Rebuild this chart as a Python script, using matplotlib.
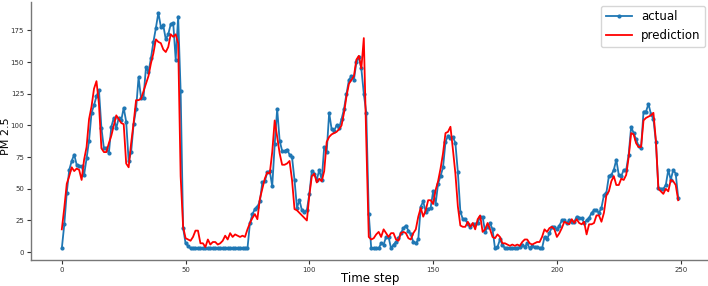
import numpy as np
import matplotlib
matplotlib.use("Agg")
import matplotlib.pyplot as plt

actual = [
    3, 22, 47, 65, 72, 77, 69, 68, 68, 61,
    74, 88, 110, 116, 123, 128, 98, 82, 82, 78,
    99, 106, 98, 106, 104, 114, 103, 72, 79, 101,
    113, 138, 122, 122, 146, 142, 153, 166, 177, 189,
    178, 179, 168, 172, 180, 181, 152, 186, 127, 19,
    7, 5, 3, 3, 3, 3, 3, 3, 3, 3,
    3, 3, 3, 3, 3, 3, 3, 3, 3, 3,
    3, 3, 3, 3, 3, 3, 23, 30, 34, 36,
    40, 55, 56, 63, 64, 52, 85, 113,
    88, 80, 80, 81, 77, 75, 57, 35, 41, 33, 32, 33,
    46, 64, 62, 57, 65, 57, 83, 79, 110, 97, 96, 100,
    98, 105, 113, 125, 136, 139, 136, 150, 154, 145, 125, 110, 30,
    3, 3, 3, 3, 7, 6, 12, 12, 3, 6,
    8, 11, 15, 19, 21, 17, 14, 8, 7, 10,
    36, 40, 32, 34, 35, 48, 38, 54, 60, 67,
    87, 92, 90, 91, 86,
    63, 32, 26, 26, 22, 20, 22, 22, 23, 28,
    28, 16, 20, 23, 18, 3, 4, 10, 6, 3,
    3, 3, 3, 3, 3, 4, 6, 4, 7, 3,
    5, 4, 4, 3, 3, 12, 10, 15, 20, 20,
    18, 21, 25, 25, 23, 25, 24, 24, 28, 27,
    27, 23, 25, 27, 31, 33, 33, 31, 35, 45,
    47, 60, 61, 65, 73, 61, 60, 65, 65, 77,
    99, 94, 89, 84, 82, 111, 111, 117, 109, 105,
    87, 51, 50, 50, 53, 65, 57, 65, 62, 43,
]

prediction = [
    18, 35, 54, 60, 67, 64, 66, 65, 57, 73,
    83, 105, 115, 129, 135, 117, 82, 79, 79, 86,
    92, 100, 108, 105, 102, 101, 70, 67, 86, 102,
    120, 120, 121, 127, 133, 139, 149, 157, 168, 166,
    165, 160, 158, 162, 172, 170, 172, 165, 60, 20,
    11, 10, 9, 12, 17, 17, 7, 7, 4, 10,
    6, 8, 8, 6, 7, 9, 13, 10, 15, 12,
    14, 13, 12, 13, 12, 18, 23, 27, 30, 26,
    42, 50, 58, 63, 62, 79, 104, 91, 78, 69,
    69, 70, 72, 57, 34, 33, 31, 29, 27, 25,
    45, 60, 62, 55, 58, 56, 64,
    87, 91, 93, 94, 95, 97, 100, 110, 123, 133, 136, 139, 152, 155, 145, 169,
    88,
    12, 10, 11, 14, 16, 12, 18, 15, 12, 15, 15, 10, 9, 15, 16, 15, 11, 10, 15,
    18, 28, 35, 28, 33, 41, 41, 38, 49, 56, 66, 78, 94, 95, 99, 81, 62, 36, 21, 20, 20,
    24, 20, 23, 18, 26, 29, 16, 18, 23, 18,
    12, 11, 14, 12, 7, 7, 6, 5, 6, 5,
    6, 5, 8, 10, 10, 7, 6, 7, 8, 8,
    12, 18, 16, 19, 20, 18, 12, 15, 19, 24,
    23, 22, 26, 23, 26, 23, 22, 24, 14, 22,
    22, 23, 29, 29, 24, 31, 45, 48, 56, 60,
    53, 53, 58, 57, 61, 75, 94, 93, 86, 83,
    83, 104, 106, 107, 108, 110, 88, 50, 48, 46,
    50, 48, 57, 56, 53, 41,
]

fig = plt.figure(figsize=(7.08, 2.86), dpi=100)
ax = fig.add_axes([31 / 708, 26 / 286, 678 / 708, 258 / 286])

ax.plot(np.arange(len(actual)), actual, color="#1f77b4", marker=".",
        markersize=4, linewidth=1.3, label="actual")
ax.plot(np.arange(len(prediction)), prediction, color="red",
        linewidth=1.3, label="prediction")

ax.set_xlim(-12.45, 261.45)
ax.set_ylim(-6.2, 197.5)
ax.set_xticks([0, 50, 100, 150, 200, 250])
ax.set_yticks([0, 25, 50, 75, 100, 125, 150, 175])
ax.tick_params(labelsize=5, colors="#333333", length=3, width=0.8, pad=2)
for s in ["top", "right"]:
    ax.spines[s].set_visible(False)
for s in ["left", "bottom"]:
    ax.spines[s].set_color("#777777")
    ax.spines[s].set_linewidth(1.0)

ax.set_xlabel("Time step", fontsize=8.5)
ax.set_ylabel("PM 2.5", fontsize=8)
ax.xaxis.set_label_coords(0.5, -0.045)
ax.yaxis.set_label_coords(-0.0295, 0.48)
ax.legend(loc="upper right", fontsize=8.5, handlelength=2.2,
          borderaxespad=0.3)

fig.savefig("out.png", dpi=100)
